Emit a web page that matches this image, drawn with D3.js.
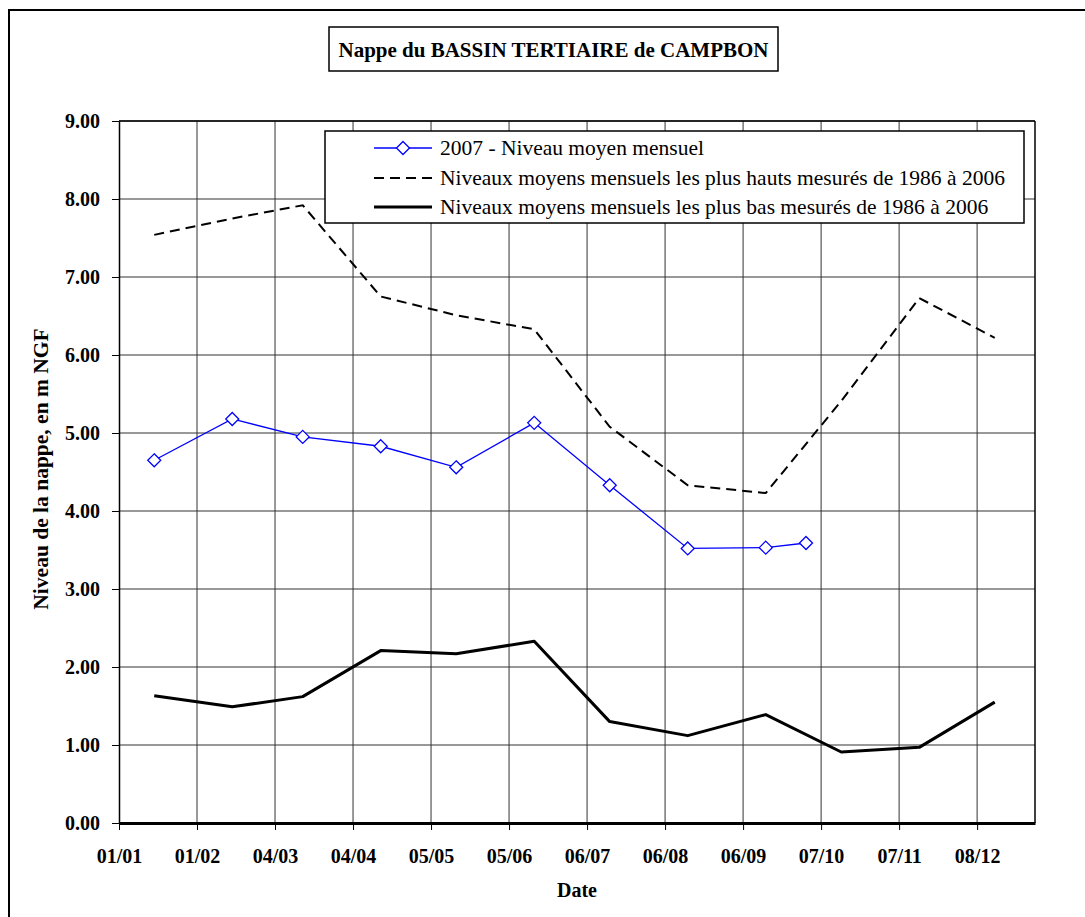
<!DOCTYPE html>
<html lang="fr">
<head>
<meta charset="UTF-8">
<title>Nappe du BASSIN TERTIAIRE de CAMPBON</title>
<script src="https://cdn.jsdelivr.net/npm/d3@7"></script>
<style>
    body { margin: 0; background: #fff; }
    svg { display: block; }
    svg text { font-family: "Liberation Serif", "Times New Roman", serif; fill: #000; }
</style>
</head>
<body>
<div id="chart"></div>
<script>
// --- données ---
var monthDates = ["2007-01-15", "2007-02-15", "2007-03-15", "2007-04-15", "2007-05-15", "2007-06-15",
                  "2007-07-15", "2007-08-15", "2007-09-15", "2007-10-15", "2007-11-15", "2007-12-15"];
var dates2007 = ["2007-01-15", "2007-02-15", "2007-03-15", "2007-04-15", "2007-05-15", "2007-06-15",
                 "2007-07-15", "2007-08-15", "2007-09-15", "2007-10-01"];
var niveau2007 = [4.65, 5.18, 4.95, 4.83, 4.56, 5.13, 4.33, 3.52, 3.53, 3.59];
var niveauxHauts = [7.54, 7.75, 7.92, 6.75, 6.51, 6.33, 5.08, 4.33, 4.23, 5.41, 6.73, 6.22];
var niveauxBas = [1.63, 1.49, 1.62, 2.21, 2.17, 2.33, 1.30, 1.12, 1.39, 0.91, 0.97, 1.55];
var yTicks = [0, 1, 2, 3, 4, 5, 6, 7, 8, 9];
var legendLabels = ["2007 - Niveau moyen mensuel",
                    "Niveaux moyens mensuels les plus hauts mesurés de 1986 à 2006",
                    "Niveaux moyens mensuels les plus bas mesurés de 1986 à 2006"];

(function() {
    var parse = d3.timeParse("%Y-%m-%d");
    var start = parse("2007-01-01"), end = parse("2007-12-31");
    // Excel : graduation tous les 31 jours
    var xTicks = d3.range(12).map(function(i) { return d3.timeDay.offset(start, 31 * i); });

    var width = 1085, height = 917;
    var pLeft = 119, pRight = 1035, pTop = 121, pBottom = 823;

    var svg = d3.select("#chart").append("svg")
        .attr("width", width)
        .attr("height", height);

    // cadre extérieur
    svg.append("rect")
        .attr("x", 9).attr("y", 10)
        .attr("width", 1090).attr("height", 920)
        .attr("fill", "none").attr("stroke", "#000").attr("stroke-width", 2);

    var x = d3.scaleTime().domain([start, end]).range([pLeft, pRight]);
    var y = d3.scaleLinear().domain([0, 9]).range([pBottom, pTop]);

    // quadrillage
    svg.append("g").selectAll("line")
        .data(yTicks.slice(1))
        .enter().append("line")
        .attr("x1", pLeft).attr("x2", pRight)
        .attr("y1", function(d) { return y(d); }).attr("y2", function(d) { return y(d); })
        .attr("stroke", "#333").attr("stroke-width", 1);
    svg.append("g").selectAll("line")
        .data(xTicks.slice(1))
        .enter().append("line")
        .attr("x1", function(d) { return x(d); }).attr("x2", function(d) { return x(d); })
        .attr("y1", pTop).attr("y2", pBottom)
        .attr("stroke", "#333").attr("stroke-width", 1);
    // bords haut et droit
    svg.append("line")
        .attr("x1", pLeft).attr("x2", pRight).attr("y1", pTop).attr("y2", pTop)
        .attr("stroke", "#000").attr("stroke-width", 1.5);
    svg.append("line")
        .attr("x1", pRight).attr("x2", pRight).attr("y1", pTop).attr("y2", pBottom)
        .attr("stroke", "#000").attr("stroke-width", 1.5);

    // axe Y
    var yAxis = svg.append("g")
        .attr("transform", "translate(" + pLeft + ",0)")
        .call(d3.axisLeft(y).tickValues(yTicks).tickSize(7).tickSizeOuter(0).tickPadding(12)
            .tickFormat(d3.format(".2f")));
    yAxis.select(".domain").attr("stroke", "#000").attr("stroke-width", 1.5);
    yAxis.selectAll("text").attr("font-size", 20).attr("font-weight", "bold")
        .attr("font-family", "Liberation Serif");

    // axe X
    var xAxis = svg.append("g")
        .attr("transform", "translate(0," + pBottom + ")")
        .call(d3.axisBottom(x).tickValues(xTicks).tickSize(7).tickSizeOuter(0).tickPadding(19)
            .tickFormat(d3.timeFormat("%d/%m")));
    xAxis.select(".domain").attr("stroke", "#000").attr("stroke-width", 3);
    xAxis.selectAll("text").attr("font-size", 20).attr("font-weight", "bold")
        .attr("font-family", "Liberation Serif");

    // titres des axes
    svg.append("text")
        .attr("x", 577).attr("y", 897)
        .attr("text-anchor", "middle")
        .attr("font-size", 20).attr("font-weight", "bold")
        .text("Date");
    svg.append("text")
        .attr("transform", "translate(48,469) rotate(-90)")
        .attr("text-anchor", "middle")
        .attr("font-size", 21.5).attr("font-weight", "bold")
        .text("Niveau de la nappe, en m NGF");

    // titre
    svg.append("rect")
        .attr("x", 329).attr("y", 27).attr("width", 449).attr("height", 44)
        .attr("fill", "#fff").attr("stroke", "#000").attr("stroke-width", 1.5);
    svg.append("text")
        .attr("x", 553.5).attr("y", 57)
        .attr("text-anchor", "middle")
        .attr("font-size", 21).attr("font-weight", "bold")
        .text("Nappe du BASSIN TERTIAIRE de CAMPBON");

    // séries
    var line = d3.line()
        .x(function(d) { return x(d.date); })
        .y(function(d) { return y(d.value); });

    var hauts = monthDates.map(function(d, i) { return { date: parse(d), value: niveauxHauts[i] }; });
    var bas = monthDates.map(function(d, i) { return { date: parse(d), value: niveauxBas[i] }; });
    var serie2007 = dates2007.map(function(d, i) { return { date: parse(d), value: niveau2007[i] }; });

    svg.append("path").datum(hauts)
        .attr("d", line).attr("fill", "none")
        .attr("stroke", "#000").attr("stroke-width", 2).attr("stroke-dasharray", "10,6");
    svg.append("path").datum(bas)
        .attr("d", line).attr("fill", "none")
        .attr("stroke", "#000").attr("stroke-width", 3).attr("stroke-linejoin", "round");
    svg.append("path").datum(serie2007)
        .attr("d", line).attr("fill", "none")
        .attr("stroke", "#0000ff").attr("stroke-width", 1.3);

    var diamond = "M0,-6.5L6.5,0L0,6.5L-6.5,0Z";
    svg.append("g").selectAll("path")
        .data(serie2007)
        .enter().append("path")
        .attr("d", diamond)
        .attr("transform", function(d) { return "translate(" + x(d.date) + "," + y(d.value) + ")"; })
        .attr("fill", "#fff").attr("stroke", "#0000ff").attr("stroke-width", 1.3);

    // légende
    var legend = svg.append("g");
    legend.append("rect")
        .attr("x", 325).attr("y", 131).attr("width", 699).attr("height", 92)
        .attr("fill", "#fff").attr("stroke", "#000").attr("stroke-width", 1.5);
    var rowsY = [148, 178, 207];
    var items = legend.selectAll("g")
        .data(legendLabels)
        .enter().append("g")
        .attr("transform", function(d, i) { return "translate(0," + rowsY[i] + ")"; });
    items.append("line")
        .attr("x1", 374).attr("x2", 432).attr("y1", 0).attr("y2", 0)
        .attr("stroke", function(d, i) { return i === 0 ? "#0000ff" : "#000"; })
        .attr("stroke-width", function(d, i) { return [1.3, 2, 3][i]; })
        .attr("stroke-dasharray", function(d, i) { return i === 1 ? "10,6" : null; });
    items.filter(function(d, i) { return i === 0; })
        .append("path")
        .attr("d", diamond)
        .attr("transform", "translate(403,0)")
        .attr("fill", "#fff").attr("stroke", "#0000ff").attr("stroke-width", 1.3);
    items.append("text")
        .attr("x", 440).attr("y", 7)
        .attr("font-size", 21.5)
        .text(function(d) { return d; });
})();
</script>
</body>
</html>
